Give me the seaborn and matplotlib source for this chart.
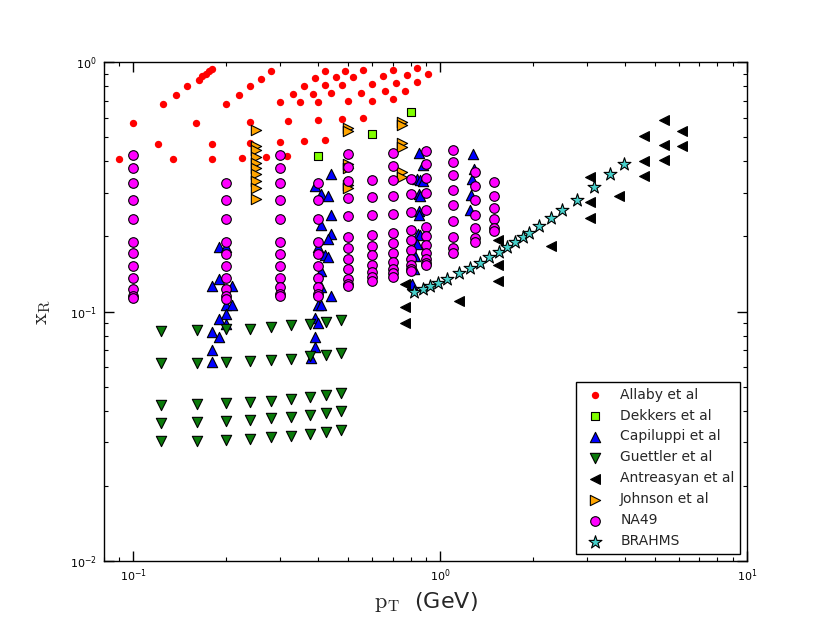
import matplotlib
matplotlib.use("Agg")
import matplotlib.pyplot as plt
import seaborn as sns

# ---- data (pT in GeV, x_R) ----
allaby_pt = [0.09, 0.10, 0.12, 0.125, 0.135, 0.138, 0.15, 0.16, 0.163, 0.167,
             0.172, 0.176, 0.18, 0.18, 0.18, 0.20, 0.22, 0.225, 0.24, 0.24,
             0.24, 0.26, 0.27, 0.28, 0.30, 0.30, 0.317, 0.32, 0.33, 0.35,
             0.36, 0.36, 0.385, 0.39, 0.40, 0.40, 0.42, 0.42, 0.42, 0.44,
             0.456, 0.48, 0.48, 0.49, 0.50, 0.52, 0.55, 0.56, 0.56, 0.60,
             0.60, 0.65, 0.66, 0.70, 0.70, 0.72, 0.77, 0.78, 0.84, 0.84,
             0.91]
allaby_xr = [0.41, 0.57, 0.47, 0.68, 0.41, 0.74, 0.80, 0.57, 0.85, 0.88,
             0.90, 0.92, 0.94, 0.47, 0.41, 0.68, 0.74, 0.414, 0.80, 0.576,
             0.476, 0.86, 0.417, 0.92, 0.69, 0.48, 0.42, 0.58, 0.744, 0.69,
             0.80, 0.483, 0.744, 0.865, 0.69, 0.585, 0.92, 0.81, 0.49, 0.75,
             0.87, 0.81, 0.59, 0.92, 0.70, 0.87, 0.756, 0.93, 0.596, 0.816,
             0.70, 0.88, 0.765, 0.935, 0.71, 0.826, 0.77, 0.887, 0.95, 0.834,
             0.895]

dekkers_pt = [0.4, 0.6, 0.8]
dekkers_xr = [0.42, 0.515, 0.63]

capiluppi_pt = [0.19, 0.20, 0.19, 0.18, 0.21, 0.20, 0.21, 0.20, 0.19, 0.20,
                0.18, 0.19, 0.18, 0.18,
                0.39, 0.41, 0.43, 0.44, 0.44, 0.41, 0.44, 0.43, 0.40, 0.42,
                0.43, 0.41, 0.41, 0.44, 0.40, 0.41, 0.39, 0.40, 0.39, 0.39,
                0.38,
                0.85, 0.88, 0.84, 0.86, 0.88, 0.85, 0.86, 0.85, 0.85, 0.845,
                0.86, 0.84, 0.83, 0.82, 0.81,
                1.28, 1.29, 1.27, 1.26, 1.25]
capiluppi_xr = [0.182, 0.181, 0.135, 0.127, 0.127, 0.106, 0.106, 0.098, 0.093, 0.089,
                0.083, 0.079, 0.070, 0.063,
                0.318, 0.297, 0.29, 0.357, 0.245, 0.222, 0.204, 0.196, 0.181, 0.168,
                0.165, 0.146, 0.125, 0.115, 0.106, 0.106, 0.094, 0.090, 0.079, 0.072,
                0.065,
                0.431, 0.386, 0.341, 0.336, 0.333, 0.295, 0.29, 0.254, 0.245, 0.205,
                0.202, 0.187, 0.167, 0.148, 0.129,
                0.427, 0.374, 0.339, 0.294, 0.256]

guettler_pt_cols = [0.123, 0.161, 0.20, 0.24, 0.281, 0.326, 0.375, 0.425, 0.475]
guettler_xr_rows = [
    [0.0834, 0.0844, 0.0852, 0.0854, 0.0865, 0.0879, 0.0893, 0.091, 0.0926],
    [0.062, 0.0622, 0.0626, 0.0632, 0.064, 0.0647, 0.066, 0.0672, 0.0684],
    [0.0423, 0.0426, 0.043, 0.0434, 0.0439, 0.0444, 0.0453, 0.0461, 0.047],
    [0.0358, 0.036, 0.0365, 0.0368, 0.0373, 0.0378, 0.0383, 0.039, 0.0398],
    [0.0301, 0.0303, 0.0305, 0.0309, 0.0313, 0.0317, 0.0323, 0.0328, 0.0335],
]

antreasyan_pt = [0.77, 0.77, 0.77, 1.15, 1.54, 1.54, 1.54, 2.30, 3.07, 3.07,
                 3.07, 3.84, 4.60, 4.60, 4.60, 5.37, 5.37, 5.37, 6.14, 6.14]
antreasyan_xr = [0.129, 0.104, 0.090, 0.110, 0.194, 0.154, 0.133, 0.184, 0.346, 0.275,
                 0.238, 0.292, 0.506, 0.400, 0.349, 0.589, 0.467, 0.404, 0.530, 0.460]

johnson_pt = [0.25, 0.25, 0.25, 0.25, 0.25, 0.25, 0.25, 0.25, 0.25, 0.25,
              0.5, 0.5, 0.5, 0.5, 0.5, 0.5,
              0.75, 0.75, 0.75, 0.75, 0.75, 0.75]
johnson_xr = [0.533, 0.46, 0.443, 0.415, 0.393, 0.375, 0.355, 0.333, 0.312, 0.284,
              0.546, 0.531, 0.39, 0.375, 0.321, 0.312,
              0.574, 0.559, 0.473, 0.456, 0.362, 0.345]

na49_pt_cols = [0.1, 0.2, 0.3, 0.4, 0.5, 0.6, 0.7, 0.8, 0.9, 1.1, 1.3, 1.5]
na49_xr_cols = [
    [0.426, 0.376, 0.328, 0.28, 0.234, 0.19, 0.171, 0.152, 0.136, 0.123, 0.115, 0.113],
    [0.328, 0.28, 0.234, 0.19, 0.17, 0.152, 0.136, 0.123, 0.115, 0.112],
    [0.426, 0.376, 0.328, 0.28, 0.234, 0.19, 0.17, 0.152, 0.136, 0.125, 0.118, 0.115],
    [0.328, 0.28, 0.234, 0.19, 0.17, 0.152, 0.136, 0.125, 0.118, 0.115],
    [0.43, 0.38, 0.334, 0.285, 0.241, 0.199, 0.18, 0.162, 0.148, 0.135, 0.129, 0.126],
    [0.336, 0.288, 0.243, 0.203, 0.184, 0.168, 0.153, 0.144, 0.137, 0.133],
    [0.434, 0.383, 0.338, 0.29, 0.247, 0.206, 0.188, 0.171, 0.158, 0.148, 0.143, 0.138],
    [0.341, 0.295, 0.25, 0.212, 0.193, 0.177, 0.163, 0.153, 0.148, 0.145],
    [0.439, 0.39, 0.344, 0.299, 0.256, 0.218, 0.2, 0.185, 0.172, 0.163, 0.156, 0.153],
    [0.444, 0.397, 0.352, 0.308, 0.267, 0.231, 0.199, 0.18, 0.172],
    [0.363, 0.319, 0.279, 0.245, 0.216, 0.198, 0.19],
    [0.331, 0.292, 0.26, 0.234, 0.216, 0.21],
]

brahms_pt = [0.82, 0.876, 0.928, 0.98, 1.051, 1.147, 1.246, 1.35, 1.447, 1.549,
             1.649, 1.748, 1.86, 1.954, 2.101, 2.294, 2.491, 2.788, 3.182, 3.579,
             3.984]
brahms_xr = [0.1196, 0.1226, 0.1262, 0.1302, 0.1347, 0.1425, 0.1493, 0.157, 0.1658, 0.1737,
             0.1819, 0.1905, 0.1988, 0.207, 0.2195, 0.2378, 0.2561, 0.2809, 0.3157, 0.3549,
             0.3918]

# flatten the gridded sets
guettler_pt = [p for row in guettler_xr_rows for p in guettler_pt_cols]
guettler_xr = [v for row in guettler_xr_rows for v in row]
na49_pt = [p for p, col in zip(na49_pt_cols, na49_xr_cols) for _ in col]
na49_xr = [v for col in na49_xr_cols for v in col]

# ---- style ----
sns.set_style("ticks")
plt.rcParams.update({
    "font.family": ["DejaVu Sans"],
    "mathtext.fontset": "cm",
    "xtick.direction": "in",
    "ytick.direction": "in",
    "xtick.top": True,
    "ytick.right": True,
    "xtick.major.size": 7,
    "ytick.major.size": 7,
    "xtick.minor.size": 3,
    "ytick.minor.size": 3,
    "xtick.major.width": 1.0,
    "ytick.major.width": 1.0,
    "xtick.minor.width": 0.8,
    "ytick.minor.width": 0.8,
    "xtick.minor.visible": True,
    "ytick.minor.visible": True,
    "axes.linewidth": 1.0,
    "axes.edgecolor": "black",
    "xtick.color": "black",
    "ytick.color": "black",
})

fig = plt.figure(figsize=(8.3, 6.23), dpi=100)
ax = fig.add_axes([0.125, 0.1, 0.775, 0.8])

series = [
    (allaby_pt, allaby_xr, "o", "#ff0000", 28, 0.0, "Allaby et al"),
    (dekkers_pt, dekkers_xr, "s", "#80ff00", 40, 0.8, "Dekkers et al"),
    (capiluppi_pt, capiluppi_xr, "^", "#0000ff", 55, 0.8, "Capiluppi et al"),
    (guettler_pt, guettler_xr, "v", "#0a7a0a", 55, 0.8, "Guettler et al"),
    (antreasyan_pt, antreasyan_xr, "<", "#000000", 50, 0.8, "Antreasyan et al"),
    (johnson_pt, johnson_xr, ">", "#ffa500", 55, 0.8, "Johnson et al"),
    (na49_pt, na49_xr, "o", "#ff00ff", 48, 0.8, "NA49"),
    (brahms_pt, brahms_xr, "*", "#48d1cc", 95, 0.8, "BRAHMS"),
]

for xs, ys, mk, col, size, lw, lab in series:
    sns.scatterplot(x=xs, y=ys, marker=mk, color=col, s=size,
                    edgecolor="black", linewidth=lw, label=lab, ax=ax, zorder=3)

ax.set_xscale("log")
ax.set_yscale("log")
ax.set_xlim(0.08, 10)
ax.set_ylim(0.01, 1)
ax.tick_params(labelsize=8, pad=5)

ax.set_xlabel(r"$\mathrm{p_T}$  (GeV)", fontsize=16, labelpad=4)
ax.set_ylabel(r"$\mathrm{x_R}$", fontsize=16, labelpad=12)

leg = ax.legend(loc="lower right", scatterpoints=1, fontsize=10,
                frameon=True, fancybox=False, framealpha=1,
                edgecolor="black", borderpad=0.4, labelspacing=0.5,
                handlelength=2, handletextpad=0.8, borderaxespad=0.5)
leg.get_frame().set_linewidth(1.0)

fig.savefig("out.png", dpi=100, facecolor="white")
plt.close(fig)
